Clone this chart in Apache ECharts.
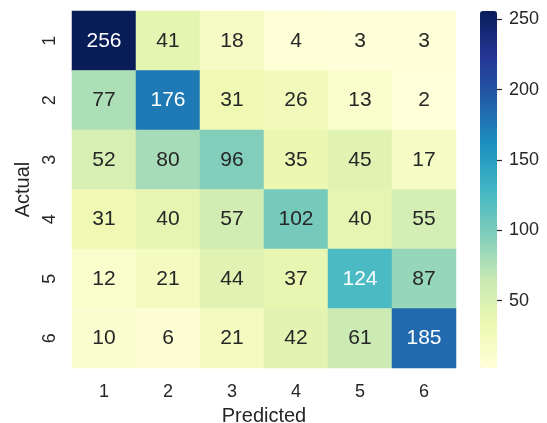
<!DOCTYPE html>
<html>
<head>
<meta charset="utf-8">
<script src="https://cdn.jsdelivr.net/npm/echarts@6/dist/echarts.min.js"></script>
<style>
  html, body { margin: 0; padding: 0; background: #fff; }
  #chart { width: 547px; height: 423px; }
</style>
</head>
<body>
<div id="chart"></div>
<script>
const predictedLabels = ['1', '2', '3', '4', '5', '6']
const actualLabels = ['1', '2', '3', '4', '5', '6']
const matrix = [
  [256, 41, 18, 4, 3, 3],
  [77, 176, 31, 26, 13, 2],
  [52, 80, 96, 35, 45, 17],
  [31, 40, 57, 102, 40, 55],
  [12, 21, 44, 37, 124, 87],
  [10, 6, 21, 42, 61, 185],
]
const colorbarTicks = [50, 100, 150, 200, 250]

const ylgnbu = ['#ffffd9', '#edf8b1', '#c7e9b4', '#7fcdbb', '#41b6c4', '#1d91c0', '#225ea8', '#253494', '#081d58']
const textDark = '#262626'
const font = '"Liberation Sans", Arial, sans-serif'

const vmin = Math.min(...matrix.flat())
const vmax = Math.max(...matrix.flat())

const cells = []
matrix.forEach((row, r) => {
  row.forEach((v, c) => {
    cells.push({
      value: [c, r, v],
      label: { color: v > 110 ? '#ffffff' : textDark },
    })
  })
})

const chart = echarts.init(document.getElementById('chart'))
chart.setOption({
  animation: false,
  textStyle: { fontFamily: font },
  grid: [
    { left: 72, top: 11, width: 384, height: 357, outerBoundsMode: 'none' },
    { left: 480, top: 11, width: 17, height: 357, outerBoundsMode: 'none' },
  ],
  xAxis: [
    {
      type: 'category',
      data: predictedLabels,
      gridIndex: 0,
      axisLine: { show: false },
      axisTick: { show: false },
      splitArea: { show: false },
      axisLabel: { color: textDark, fontSize: 18, margin: 15, fontFamily: font },
      name: 'Predicted',
      nameLocation: 'middle',
      nameGap: 38,
      nameTextStyle: { color: textDark, fontSize: 20, fontFamily: font },
    },
    { type: 'value', gridIndex: 1, show: false, min: 0, max: 1 },
  ],
  yAxis: [
    {
      type: 'category',
      data: actualLabels,
      inverse: true,
      gridIndex: 0,
      axisLine: { show: false },
      axisTick: { show: false },
      axisLabel: { color: textDark, fontSize: 18, margin: 13, rotate: 90, fontFamily: font },
      name: 'Actual',
      nameLocation: 'middle',
      nameGap: 34,
      nameTextStyle: { color: textDark, fontSize: 20, fontFamily: font },
    },
    {
      type: 'value',
      gridIndex: 1,
      position: 'right',
      min: vmin,
      max: vmax,
      z: 10,
      axisLine: { show: false, onZero: false },
      splitLine: { show: false },
      axisTick: { show: true, length: 5, lineStyle: { color: textDark, width: 1.2 }, customValues: colorbarTicks },
      axisLabel: { color: textDark, fontSize: 18, margin: 12, fontFamily: font, customValues: colorbarTicks },
    },
  ],
  visualMap: {
    type: 'continuous',
    min: vmin,
    max: vmax,
    seriesIndex: 0,
    calculable: false,
    orient: 'vertical',
    left: 480,
    top: 11,
    padding: 0,
    itemWidth: 17,
    itemHeight: 357,
    text: null,
    inRange: { color: ylgnbu },
  },
  series: [
    {
      type: 'heatmap',
      xAxisIndex: 0,
      yAxisIndex: 0,
      data: cells,
      label: { show: true, fontSize: 21, fontFamily: font, formatter: (p) => p.value[2] },
      itemStyle: { borderWidth: 0 },
      emphasis: { disabled: true },
    },
    {
      type: 'line',
      xAxisIndex: 1,
      yAxisIndex: 1,
      data: [],
    },
  ],
})
</script>
</body>
</html>
